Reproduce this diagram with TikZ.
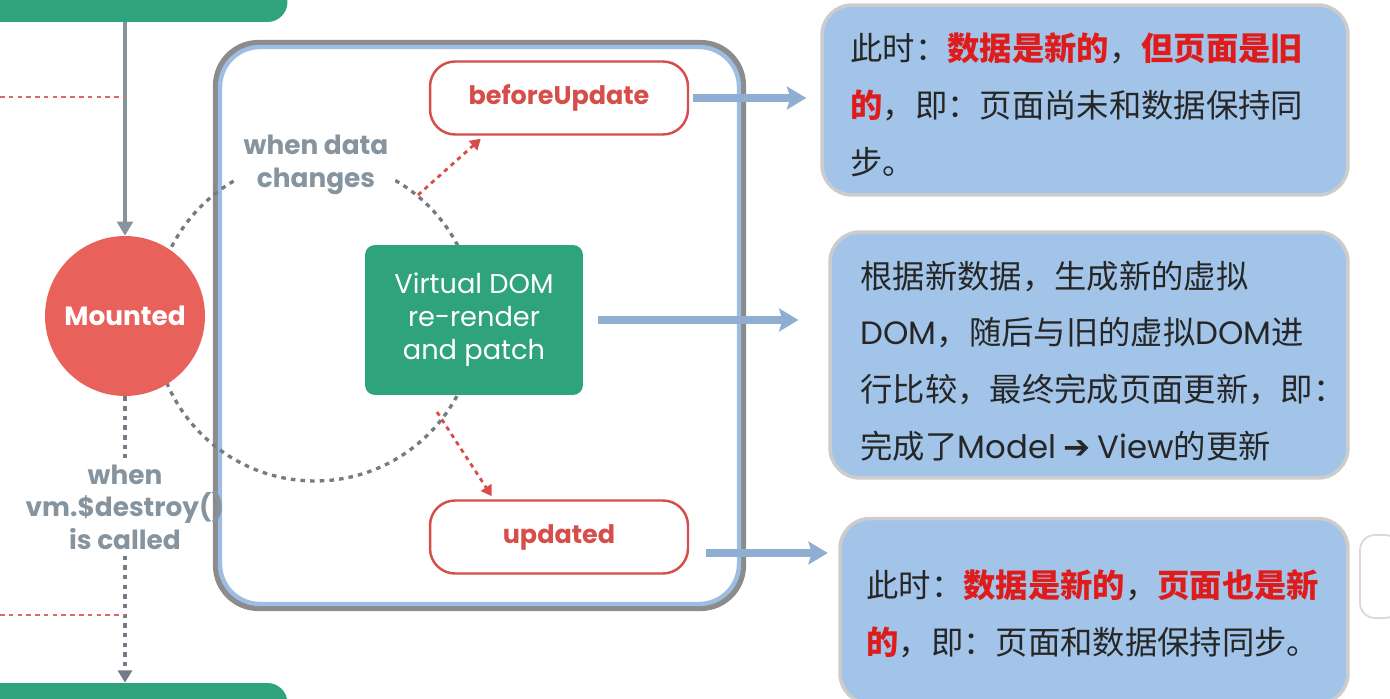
\documentclass[tikz,border=0pt]{standalone}
\usepackage{fontspec}
\setmainfont{Poppins}
\newfontfamily\cjk{Noto Sans CJK SC}
\newfontfamily\symfont{DejaVu Sans}
\usetikzlibrary{arrows.meta,calc,positioning}
\definecolor{vuegreen}{RGB}{46,163,124}
\definecolor{mountred}{RGB}{232,98,91}
\definecolor{hookred}{RGB}{214,78,74}
\definecolor{linegray}{RGB}{133,148,158}
\definecolor{dotgray}{RGB}{115,124,132}
\definecolor{frameblue}{RGB}{157,189,227}
\definecolor{noteblue}{RGB}{162,196,232}
\definecolor{hotred}{RGB}{222,28,28}
\newcommand{\hot}[1]{{\bfseries\color{hotred}#1}}
\newcommand{\lat}[1]{{\rmfamily #1}}

\begin{document}
\begin{tikzpicture}[x=0.02cm,y=-0.02cm,
	bar/.style={fill=vuegreen, rounded corners=0.4cm, minimum width=6.5cm, minimum height=0.88cm},
	hook/.style={draw=hookred, line width=1.4pt, fill=white, rounded corners=0.5cm, minimum width=5.16cm, minimum height=1.46cm, text=hookred, font=\bfseries\fontsize{14.5}{17}\selectfont},
	graytext/.style={text=linegray, font=\bfseries\fontsize{15}{18.5}\selectfont, align=center},
	notebox/.style={fill=noteblue, draw=black!20, line width=2pt, rounded corners=0.6cm},
	notetext/.style={font=\cjk\fontsize{18.4}{32.3}\selectfont, align=left, text=black!85, inner sep=0pt},
	bluearrow/.style={draw=frameblue!92!black, line width=4.5pt, -{Stealth[length=11pt,width=13pt,inset=2pt]}},
	reddots/.style={draw=hookred, line width=1.6pt, dash pattern=on 2.5pt off 2.5pt, -{Triangle[length=6pt,width=7pt]}},
	graydots/.style={draw=dotgray, line width=1.9pt, dash pattern=on 2.6pt off 2.9pt},
	reddash/.style={draw=hookred!85, line width=1.6pt, dash pattern=on 2.6pt off 2.4pt}]
	\useasboundingbox (0,0) rectangle (1390,699);
	\clip (0,0) rectangle (1390,699);
	% frame of the update loop
	\draw[black!45, line width=3.5pt, rounded corners=0.85cm] (216,43) rectangle (743,608);
	\draw[frameblue, line width=2.5pt, rounded corners=0.8cm] (220,47) rectangle (739,604);
	\draw[graydots] (315,320) circle (3.22cm);
	\node[graytext, fill=white, inner sep=4pt] (changes) at (316,165) {when data\\changes};
	% hooks
	\node[bar] (topbar) at (125,0) {};
	\node[bar] (botbar) at (125,705) {};
	\node[circle, fill=mountred, minimum size=3.2cm, inner sep=0pt, text=white, font=\bfseries\fontsize{15}{18}\selectfont] (mounted) at (125,316) {Mounted};
	\node[fill=vuegreen, rounded corners=0.2cm, minimum width=4.36cm, minimum height=3cm, text=white, align=center, font=\fontsize{15.5}{18.7}\selectfont] (vdom) at (474,320) {Virtual DOM\\re-render\\and patch};
	\node[hook] (before) at (559,98) {beforeUpdate};
	\node[hook] (updated) at (559,537) {updated};
	\node[graytext] (destroy) at (125,507) {when\\vm.\$destroy()\\is called};
	% notes
	\node[notebox, minimum width=10.52cm, minimum height=3.8cm] (note1) at (1085,100) {};
	\node[notebox, minimum width=10.36cm, minimum height=4.92cm] (note2) at (1089,355) {};
	\node[notebox, minimum width=10.16cm, minimum height=3.7cm] (note3) at (1094,611) {};
	\draw[fill=white, draw=black!15, line width=1pt, rounded corners=0.3cm] (1360,535) rectangle (1400,618);
	\node[notetext, anchor=west] (text1) at ($(note1.west)+(30,5)$) {此时：\hot{数据是新的}，\hot{但页面是旧}\\\hot{的}，即：页面尚未和数据保持同\\步。};
	\node[notetext, anchor=west] (text2) at ($(note2.west)+(32,6)$) {根据新数据，生成新的虚拟\\\lat{DOM}，随后与旧的虚拟\lat{DOM}进\\行比较，最终完成页面更新，即：\\完成了\lat{Model} {\symfont\bfseries ➔} \lat{View}的更新};
	\node[notetext, anchor=west] (text3) at ($(note3.west)+(28,3)$) {此时：\hot{数据是新的}，\hot{页面也是新}\\\hot{的}，即：页面和数据保持同步。};
	% connectors
	\draw[draw=linegray, line width=1.8pt, -{Triangle[length=8pt,width=9pt]}] (topbar.south) -- (mounted.north);
	\draw[graydots] (mounted.south) -- (destroy.north);
	\draw[graydots, -{Triangle[length=7pt,width=8pt]}] (destroy.south) -- (botbar.north);
	\coordinate (mark1) at (0,97);
	\coordinate (mark2) at (0,615);
	\draw[reddash] (mark1) -- (mark1 -| mounted.north);
	\draw[reddash] (mark2) -- (mark2 -| mounted.south);
	\coordinate (upd-in) at (418,195);
	\coordinate (upd-out) at (437,412);
	\draw[reddots] (upd-in) -- ($(before.south west)+(52,3)$);
	\draw[reddots] (upd-out) -- ($(updated.north west)+(63,-3)$);
	\draw[bluearrow, shorten <=2.3pt, shorten >=8pt] (before.east) -- (before.east -| note1.west);
	\draw[bluearrow, shorten <=8.5pt, shorten >=17pt] (vdom.east) -- (vdom.east -| note2.west);
	\coordinate (upd-east) at ($(updated.east)+(17,16)$);
	\draw[bluearrow, shorten >=6pt] (upd-east) -- (upd-east -| note3.west);
\end{tikzpicture}
\end{document}
